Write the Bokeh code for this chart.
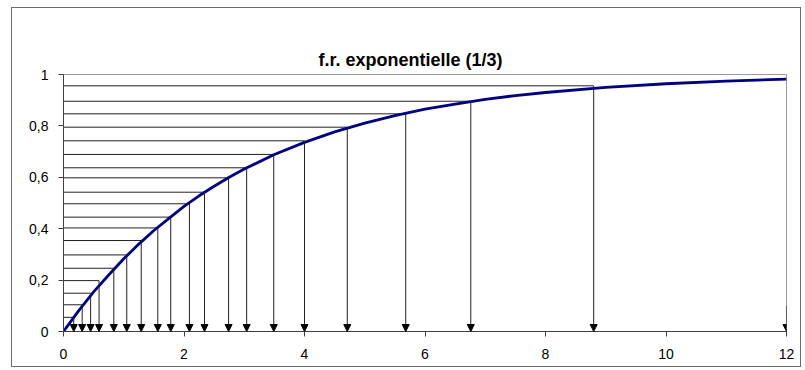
from bokeh.plotting import figure
from bokeh.models import ColumnDataSource, Arrow, NormalHead, FixedTicker, Range1d, LinearAxis
from bokeh.embed import file_html
from bokeh.resources import INLINE

# ---- data ----
title_text = "f.r. exponentielle (1/3)"

curve_x = [0, 0.25, 0.5, 0.75, 1, 1.25, 1.5, 1.75, 2, 2.25, 2.5, 2.75, 3, 3.5, 4,
           4.5, 5, 5.5, 6, 6.5, 7, 7.5, 8, 9, 10, 11, 12]
curve_y = [0, 0.08, 0.154, 0.22, 0.283, 0.34, 0.393, 0.44, 0.487, 0.528, 0.565,
           0.60, 0.632, 0.689, 0.736, 0.777, 0.811, 0.84, 0.865, 0.885, 0.903,
           0.918, 0.93, 0.95, 0.964, 0.974, 0.982]

arrow_x = [0.17, 0.31, 0.45, 0.59, 0.835, 1.05, 1.29, 1.565, 1.78, 2.09, 2.34,
           2.74, 3.04, 3.49, 4.0, 4.71, 5.68, 6.76, 8.8]
arrow_level = [0.055, 0.104, 0.149, 0.198, 0.246, 0.298, 0.354, 0.403, 0.445,
               0.497, 0.542, 0.598, 0.637, 0.689, 0.742, 0.795, 0.847, 0.896, 0.956]

last_arrow_x = [12]
last_arrow_level = [0.10]

x_ticks = [0, 2, 4, 6, 8, 10, 12]
y_ticks = [0, 0.2, 0.4, 0.6, 0.8, 1]
y_tick_labels = ["0", "0,2", "0,4", "0,6", "0,8", "1"]

FONT = "Liberation Sans"
LINE_COL = "#222222"

p = figure(width=790, height=360, x_range=Range1d(0, 12), y_range=Range1d(0, 1),
           output_backend="svg", toolbar_location=None,
           min_border_left=51, min_border_right=16, min_border_top=66, min_border_bottom=37)

p.margin = (7, 0, 0, 11)
p.styles = {"border": "1px solid #6a6a6a"}

# invisible top axis used only as a spacer between frame and title
spacer = LinearAxis(ticker=FixedTicker(ticks=[]), major_tick_out=33, major_tick_in=0,
                    axis_line_color=None, major_tick_line_color=None,
                    minor_tick_line_color=None, major_label_text_alpha=0)
p.add_layout(spacer, "above")

p.title.text = title_text
p.title.text_font = FONT
p.title.text_font_style = "bold"
p.title.text_font_size = "18px"
p.title.align = "left"
p.title.offset = 255
p.title.vertical_align = "bottom"
p.title.standoff = 10
p.title.text_color = "#000000"

p.xgrid.visible = False
p.ygrid.visible = False
p.outline_line_color = "#9a9a9a"
p.outline_line_width = 1

# horizontal level lines from the y axis to the curve
zeros = [0] * len(arrow_x)
hsrc = ColumnDataSource(dict(x0=zeros, y0=arrow_level, x1=arrow_x, y1=arrow_level))
p.segment(x0="x0", y0="y0", x1="x1", y1="y1", source=hsrc, line_color=LINE_COL, line_width=1)

# vertical arrows down to the x axis
asrc = ColumnDataSource(dict(xs=arrow_x + last_arrow_x, ys=arrow_level + last_arrow_level,
                             ye=[0] * (len(arrow_x) + len(last_arrow_x))))
p.add_layout(Arrow(end=NormalHead(size=7, fill_color="black", line_color="black", line_width=1),
                   x_start="xs", y_start="ys", x_end="xs", y_end="ye", source=asrc,
                   line_color=LINE_COL, line_width=1))

# curve
p.line(curve_x, curve_y, line_color="#000080", line_width=2.8)

for ax in (p.below[0], p.left[0]):
    ax.axis_line_color = "#404040"
    ax.major_tick_line_color = "#404040"
    ax.minor_tick_line_color = None
    ax.major_tick_out = 5
    ax.major_tick_in = 0
    ax.major_label_text_font = FONT
    ax.major_label_text_font_size = "14px"
    ax.major_label_text_color = "#000000"

p.below[0].ticker = FixedTicker(ticks=x_ticks)
p.left[0].ticker = FixedTicker(ticks=y_ticks)
p.left[0].major_label_overrides = {t: lab for t, lab in zip(y_ticks, y_tick_labels)}
p.below[0].major_label_standoff = 12
p.left[0].major_label_standoff = 10

open("out.html", "w").write(file_html(p, INLINE))
